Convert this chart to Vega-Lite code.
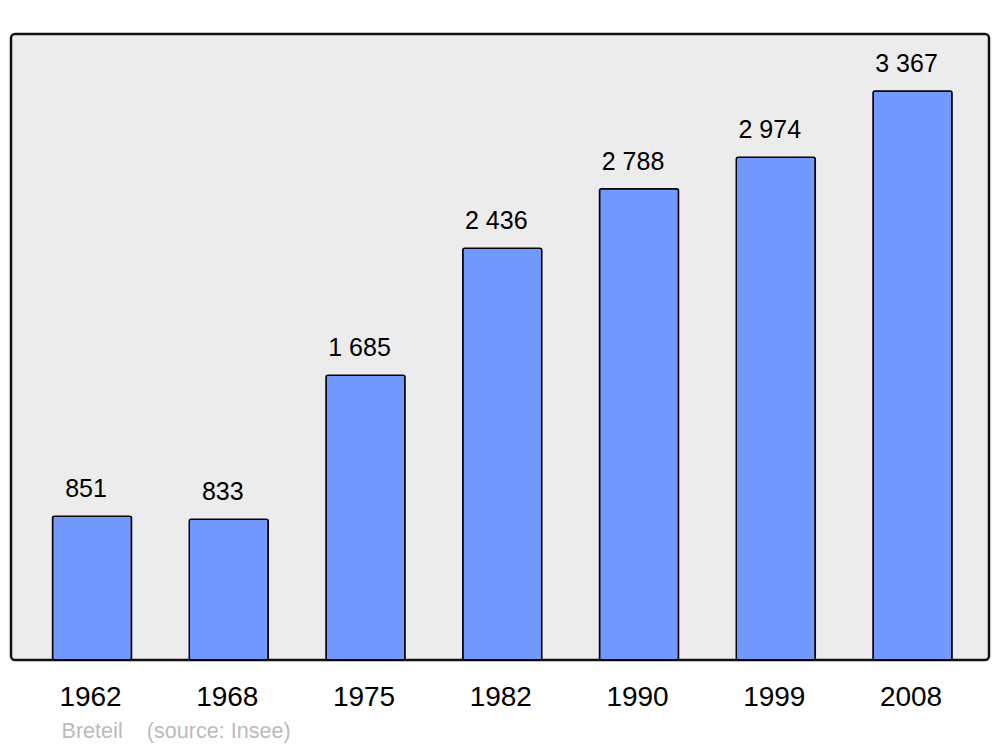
{
  "$schema": "https://vega.github.io/schema/vega-lite/v6.json",
  "width": 978,
  "height": 626,
  "autosize": "none",
  "padding": {"left": 11, "top": 34, "right": 11, "bottom": 87},
  "background": "#ffffff",
  "config": {
    "font": "Liberation Sans",
    "view": {"fill": "#ECECEC", "stroke": "#111111", "strokeWidth": 2.5, "cornerRadius": 4},
    "locale": {"number": {"decimal": ",", "thousands": " ", "grouping": [3], "currency": ["", " €"]}}
  },
  "data": {
    "values": [
      {"year": "1962", "population": 851},
      {"year": "1968", "population": 833},
      {"year": "1975", "population": 1685},
      {"year": "1982", "population": 2436},
      {"year": "1990", "population": 2788},
      {"year": "1999", "population": 2974},
      {"year": "2008", "population": 3367}
    ]
  },
  "encoding": {
    "x": {
      "field": "year",
      "type": "ordinal",
      "sort": null,
      "scale": {"paddingInner": 0.4223, "paddingOuter": 0.287, "align": 0.529},
      "axis": {
        "title": "Breteil\u00a0\u00a0\u00a0\u00a0(source: Insee)",
        "titleFont": "Liberation Sans",
        "titleFontSize": 21.6,
        "titleFontWeight": "normal",
        "titleColor": "#BBBBBB",
        "titleAlign": "left",
        "titleAnchor": null,
        "titleBaseline": "alphabetic",
        "titleX": 50,
        "titleY": 77,
        "labelAngle": 0,
        "labelFontSize": 28,
        "labelColor": "#000000",
        "labelBaseline": "alphabetic",
        "labelPadding": 45,
        "labelOffset": -1.5,
        "ticks": false,
        "tickSize": 0,
        "domain": false,
        "grid": false
      }
    },
    "y": {
      "field": "population",
      "type": "quantitative",
      "scale": {"domain": [0, 3704], "nice": false},
      "axis": null
    }
  },
  "layer": [
    {
      "mark": {"type": "bar", "fill": "#7299FF", "stroke": "#000000", "strokeWidth": 1.5, "cornerRadius": 2}
    },
    {
      "mark": {"type": "text", "baseline": "alphabetic", "align": "center", "dx": -6, "dy": -19, "fontSize": 25, "color": "#000000"},
      "encoding": {"text": {"field": "population", "type": "quantitative", "format": ",d"}}
    }
  ]
}
